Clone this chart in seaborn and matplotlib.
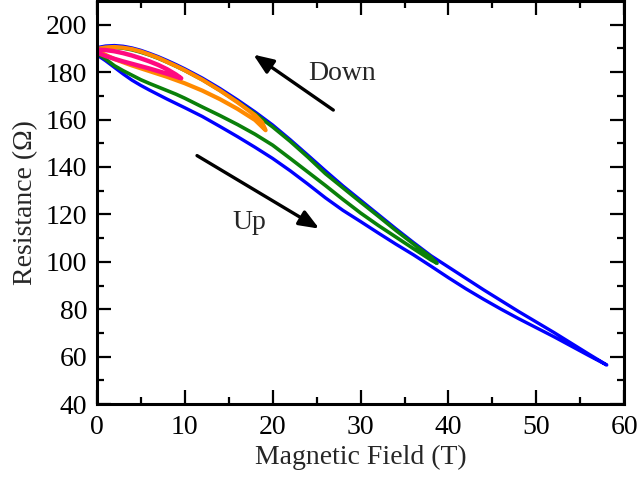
import matplotlib
matplotlib.use("Agg")
import matplotlib.pyplot as plt
import seaborn as sns
import pandas as pd
from matplotlib.ticker import MultipleLocator

# Field sweeps: each loop goes up in field (lower branch) and back down (upper branch)
blue_up_x = [0, 1, 2, 3, 4, 5, 6, 7, 8, 9, 10, 12, 14, 16, 18, 20, 22, 24, 26, 28, 30,
             32, 34, 36, 38, 40, 42, 44, 46, 48, 50, 52, 54, 56, 58]
blue_up_y = [187.3, 184.8, 182.0, 179.2, 176.6, 174.4, 172.4, 170.5, 168.6, 166.8, 165.0,
             161.3, 157.1, 152.8, 148.3, 143.6, 138.4, 132.8, 127.0, 121.7, 117.0,
             112.2, 107.5, 103.0, 98.2, 93.3, 88.6, 84.2, 80.0, 76.0, 72.2, 68.4, 64.4,
             60.4, 56.5]
blue_down_x = [58, 56, 54, 52, 50, 48, 46, 44, 42, 40, 38, 36, 34, 32, 30, 28, 26, 24, 22,
               20, 18, 16, 14, 12, 10, 9, 8, 7, 6, 5, 4, 3, 2, 1, 0]
blue_down_y = [56.5, 61.0, 65.6, 70.2, 74.6, 79.0, 83.6, 88.2, 93.0, 97.8, 102.6, 108.2,
               114.0, 120.0, 126.0, 132.0, 138.4, 145.0, 151.5, 157.7, 163.2, 168.3,
               173.1, 177.5, 181.4, 183.2, 184.9, 186.5, 187.9, 189.2, 190.2, 190.9,
               191.2, 191.0, 190.3]

green_up_x = [0, 1, 2, 3, 4, 5, 6, 7, 8, 9, 10, 12, 14, 16, 18, 20, 22, 24, 26, 28, 30,
              32, 34, 36, 38, 38.7]
green_up_y = [188.0, 185.5, 182.7, 180.6, 178.7, 176.8, 175.2, 173.7, 172.2, 170.7, 169.0,
              165.3, 161.7, 157.9, 153.8, 149.2, 143.6, 137.9, 132.2, 126.3, 120.6,
              115.4, 110.5, 105.6, 100.8, 99.4]
green_down_x = [38.7, 38, 36, 34, 32, 30, 28, 26, 24, 22, 20, 18, 16, 14, 12, 10, 9, 8,
                7, 6, 5, 4, 3, 2, 1, 0]
green_down_y = [99.4, 102.0, 107.6, 113.3, 119.3, 125.2, 131.2, 137.2, 144.2, 150.8, 156.9,
                162.4, 167.5, 172.3, 176.8, 180.7, 182.5, 184.2, 185.8, 187.2, 188.4,
                189.4, 190.1, 190.4, 190.2, 189.6]

orange_up_x = [0, 2, 4, 6, 8, 10, 12, 14, 16, 18, 19.2]
orange_up_y = [189.0, 185.5, 182.8, 180.4, 178.0, 175.3, 172.2, 168.6, 164.5, 159.8, 155.5]
orange_down_x = [19.2, 18.8, 18, 16, 14, 12, 10, 9, 8, 7, 6, 5, 4, 3, 2, 1, 0]
orange_down_y = [155.5, 158.8, 161.8, 167.3, 172.3, 176.8, 180.8, 182.6, 184.3, 186.0,
                 187.4, 188.7, 189.7, 190.3, 190.6, 190.4, 189.8]

pink_up_x = [0, 1, 2, 3, 4, 5, 6, 7, 8, 9, 9.6]
pink_up_y = [188.3, 186.8, 185.6, 184.5, 183.5, 182.5, 181.5, 180.4, 179.3, 178.1, 177.4]
pink_down_x = [9.6, 9, 8, 7, 6, 5, 4, 3, 2, 1, 0]
pink_down_y = [177.4, 179.0, 181.2, 183.0, 184.5, 185.8, 187.0, 188.0, 188.8, 189.3, 189.5]

loops = [
    ("58 T", blue_up_x + blue_down_x, blue_up_y + blue_down_y, "#0000ff", 2.4),
    ("39 T", green_up_x + green_down_x, green_up_y + green_down_y, "#0a800a", 2.6),
    ("19 T", orange_up_x + orange_down_x, orange_up_y + orange_down_y, "#ff8a00", 3.0),
    ("10 T", pink_up_x + pink_down_x, pink_up_y + pink_down_y, "#ff0a80", 3.2),
]

sns.set_theme(style="ticks")
plt.rcParams["font.family"] = ["Liberation Serif", "DejaVu Serif"]
plt.rcParams["mathtext.fontset"] = "stix"

fig = plt.figure(figsize=(6.41, 4.84), dpi=100)
ax = fig.add_axes([0.151, 0.165, 0.823, 0.833])

for name, xs, ys, color, lw in loops:
    df = pd.DataFrame({"B": xs, "R": ys})
    sns.lineplot(data=df, x="B", y="R", sort=False, estimator=None, color=color,
                 linewidth=lw, ax=ax)

ax.set_xlim(0, 60)
ax.set_ylim(40, 210)
ax.xaxis.set_major_locator(MultipleLocator(10))
ax.xaxis.set_minor_locator(MultipleLocator(5))
ax.yaxis.set_major_locator(MultipleLocator(20))
ax.yaxis.set_minor_locator(MultipleLocator(10))
ax.set_yticks(range(40, 201, 20))
ax.tick_params(which="both", direction="in", top=True, right=True, width=1.6,
               labelsize=20, colors="black")
ax.tick_params(which="major", length=10)
ax.tick_params(which="minor", length=5)
ax.tick_params(axis="x", pad=8)
ax.tick_params(axis="y", pad=7)
for sp in ax.spines.values():
    sp.set_linewidth(2.2)
    sp.set_color("black")

ax.set_xlabel("Magnetic Field (T)", fontsize=20, labelpad=3)
ax.set_ylabel("Resistance (Ω)", fontsize=20, labelpad=5)

# Sweep direction annotations
ax.annotate("", xy=(17.8, 187.4), xytext=(26.9, 164.0),
            arrowprops=dict(arrowstyle="-|>,head_length=1.0,head_width=0.4",
                            color="black", lw=2.4, shrinkA=0, shrinkB=0))
ax.annotate("", xy=(25.3, 114.0), xytext=(11.4, 144.8),
            arrowprops=dict(arrowstyle="-|>,head_length=1.0,head_width=0.4",
                            color="black", lw=2.4, shrinkA=0, shrinkB=0))
ax.text(27.9, 179.6, "Down", fontsize=20, ha="center", va="center")
ax.text(17.4, 116.8, "Up", fontsize=20, ha="center", va="center")

fig.savefig("out.png", dpi=100)
